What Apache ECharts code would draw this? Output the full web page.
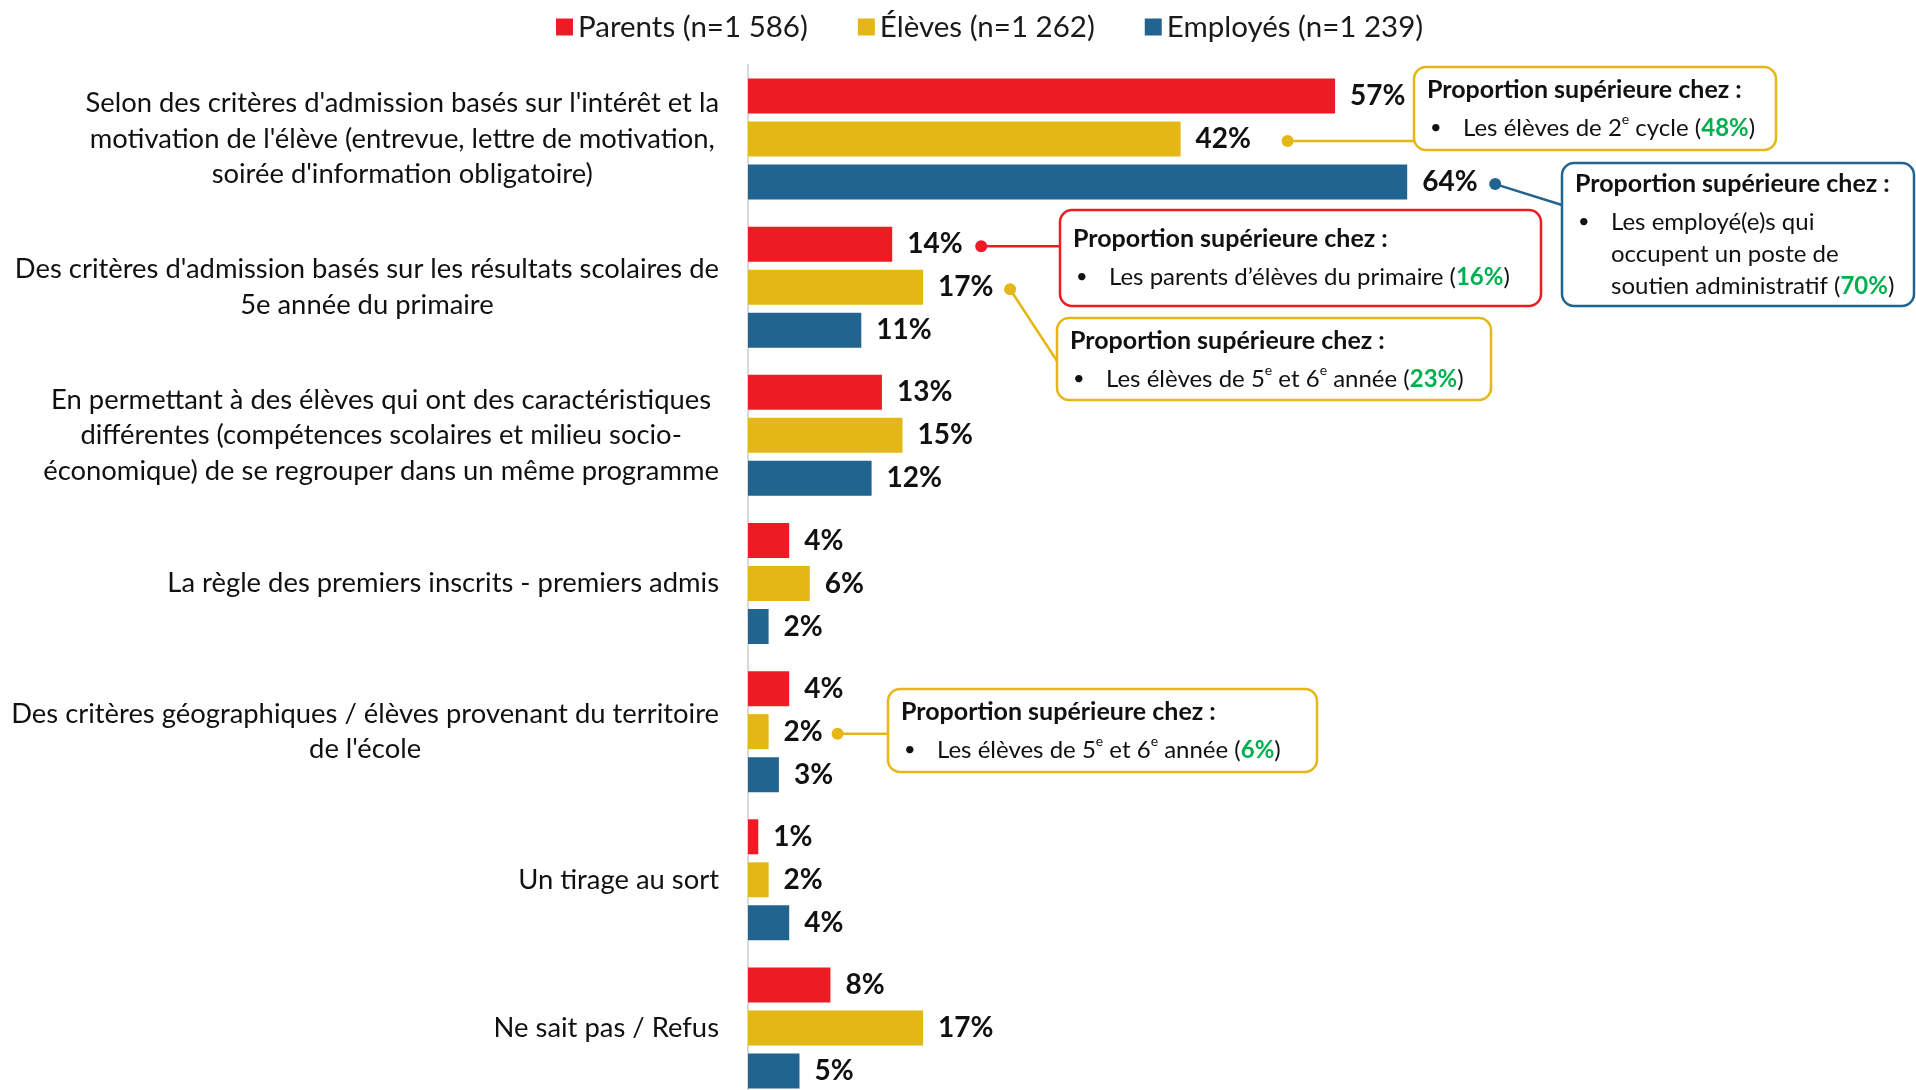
<!DOCTYPE html>
<html><head><meta charset="utf-8">
<script src="https://cdn.jsdelivr.net/npm/echarts@6/dist/echarts.min.js"></script>
<style>html,body{margin:0;padding:0;background:#fff}#main{width:1916px;height:1090px}</style>
</head><body><div id="main"></div>
<script>
// ---------- DATA ----------
const categories = [
  "Selon des critères d'admission basés sur l'intérêt et la\nmotivation de l'élève (entrevue, lettre de motivation,\nsoirée d'information obligatoire)",
  "Des critères d'admission basés sur les résultats scolaires de\n5e année du primaire",
  "En permettant à des élèves qui ont des caractéristiques\ndifférentes (compétences scolaires et milieu socio-\néconomique) de se regrouper dans un même programme",
  "La règle des premiers inscrits - premiers admis",
  "Des critères géographiques / élèves provenant du territoire\nde l'école",
  "Un tirage au sort",
  "Ne sait pas / Refus"
];
const seriesNames = ['Parents (n=1 586)', 'Élèves (n=1 262)', 'Employés (n=1 239)'];
const parents  = [57, 14, 13, 4, 4, 1, 8];
const eleves   = [42, 17, 15, 6, 2, 2, 17];
const employes = [64, 11, 12, 2, 3, 4, 5];

const annotationTitle = 'Proportion supérieure chez :';
// [seriesIndex, categoryIndex]
const annotationTargets = [[1, 0], [2, 0], [0, 1], [1, 1], [1, 4]];
const annotationTexts = [
  '{n|Les élèves de 2}{s|e}{n| cycle (}{g|48%}{n|)}',
  '{n|Les employé(e)s qui}\n{n|occupent un poste de}\n{n|soutien administratif (}{g|70%}{n|)}',
  '{n|Les parents d\u2019élèves du primaire (}{g|16%}{n|)}',
  '{n|Les élèves de 5}{s|e}{n| et 6}{s|e}{n| année (}{g|23%}{n|)}',
  '{n|Les élèves de 5}{s|e}{n| et 6}{s|e}{n| année (}{g|6%}{n|)}'
];

// ---------- STYLE ----------
const FONT = 'Lato, "Noto Sans", sans-serif';
const COLORS = ['#ED1C24', '#E5B716', '#21648F'];
const BAR_W = 35, BAR_GAP = 8;

// annotation layout (pixels): box [x, y, w, h], dot x-offset from bar end, line end point, extra vertical padding
const annotationLayout = [
  { box: [1414, 67, 362, 83], dotDx: 107, end: null, dy: 0 },
  { box: [1562, 163, 352, 143], dotDx: 88, end: [1562, 205], dy: -2 },
  { box: [1060, 210, 481, 96], dotDx: 89, end: null, dy: 6 },
  { box: [1057, 318, 434, 82], dotDx: 87, end: [1057, 361], dy: 0 },
  { box: [888, 689, 429, 83], dotDx: 69, end: null, dy: 0 }
];

const chart = echarts.init(document.getElementById('main'), null, { renderer: 'canvas' });

const allVals = [parents, eleves, employes];
const option = {
  animation: false,
  backgroundColor: '#fff',
  color: COLORS,
  legend: {
    data: seriesNames,
    left: 551, top: 7,
    icon: 'rect', itemWidth: 17, itemHeight: 17, itemGap: 50,
    textStyle: { fontSize: 29.5, color: '#1a1a1a', fontFamily: FONT }
  },
  grid: { left: 748, right: 138, top: 65, bottom: -12, containLabel: false, outerBoundsMode: 'none' },
  xAxis: { type: 'value', min: 0, max: 100, show: false },
  yAxis: {
    type: 'category', data: categories, inverse: true,
    axisLine: { show: true, lineStyle: { color: '#D9D9D9', width: 2 } },
    axisTick: { show: false },
    axisLabel: {
      margin: 29,
      formatter: v => v.split('\n').map(l => '{c|' + l + '}').join('\n'),
      rich: { c: { align: 'center', fontSize: 27.4, lineHeight: 35.5, color: '#111', fontFamily: FONT } }
    }
  },
  series: seriesNames.map((name, i) => ({
    name, type: 'bar', data: allVals[i],
    barWidth: BAR_W, barGap: (BAR_GAP / BAR_W * 100) + '%',
    itemStyle: { color: COLORS[i] },
    label: {
      show: true, position: 'right', distance: 15,
      formatter: '{c}%', fontSize: 28, fontWeight: 'bold', color: '#111', fontFamily: FONT
    }
  }))
};
chart.setOption(option);

function barCenter(s, c) {
  const p = chart.convertToPixel({ gridIndex: 0 }, [allVals[s][c], c]);
  return [p[0], p[1] + (s - 1) * (BAR_W + BAR_GAP)];
}

const richBody = {
  n: { fontSize: 24, fontFamily: FONT, fill: '#111', lineHeight: 32 },
  s: { fontSize: 14, fontFamily: FONT, fill: '#111', lineHeight: 14, verticalAlign: 'top' },
  g: { fontSize: 24, fontFamily: FONT, fill: '#00B050', fontWeight: 'bold', lineHeight: 32 }
};

const graphics = [];
annotationTargets.forEach((t, k) => {
  const [s, c] = t;
  const L = annotationLayout[k];
  const col = COLORS[s];
  const bc = barCenter(s, c);
  const dot = [bc[0] + L.dotDx, bc[1] + 2];
  const [bx, by, bw, bh] = L.box;
  const end = L.end || [bx, dot[1]];
  graphics.push({ type: 'line', shape: { x1: dot[0], y1: dot[1], x2: end[0], y2: end[1] }, style: { stroke: col, lineWidth: 2.5 }, z: 10 });
  graphics.push({ type: 'circle', shape: { cx: dot[0], cy: dot[1], r: 6 }, style: { fill: col }, z: 11 });
  graphics.push({ type: 'rect', shape: { x: bx, y: by, width: bw, height: bh, r: 12 }, style: { fill: '#fff', stroke: col, lineWidth: 2.5 }, z: 12 });
  graphics.push({ type: 'text', x: bx + 13, y: by + 23 + L.dy, style: { text: annotationTitle, fontSize: 25, fontWeight: 'bold', fontFamily: FONT, fill: '#111', verticalAlign: 'middle' }, z: 13 });
  graphics.push({ type: 'text', x: bx + 16, y: by + 61 + L.dy, style: { text: '•', fontSize: 20, fontFamily: FONT, fill: '#111', verticalAlign: 'middle' }, z: 13 });
  graphics.push({ type: 'text', x: bx + 49, y: by + 45 + L.dy, style: { text: annotationTexts[k], rich: richBody, fontSize: 24, fontFamily: FONT, fill: '#111', verticalAlign: 'top' }, z: 13 });
});
chart.setOption({ graphic: graphics });
</script>
</body></html>
